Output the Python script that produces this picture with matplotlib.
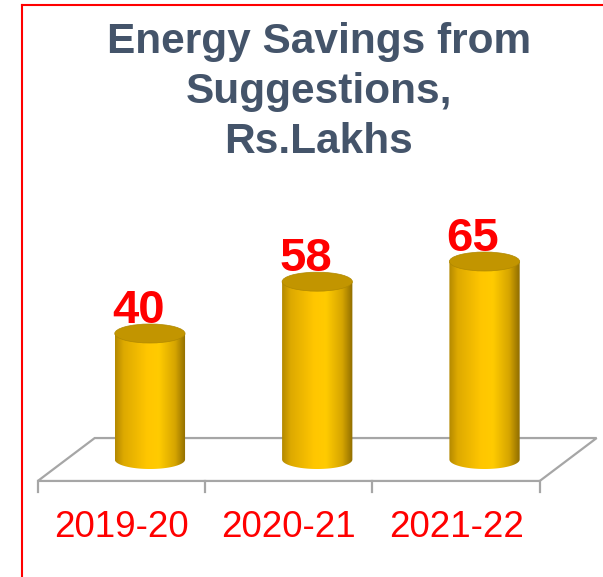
import numpy as np
import matplotlib
matplotlib.use("Agg")
import matplotlib.pyplot as plt
from matplotlib.patches import Ellipse, PathPatch, Polygon
from matplotlib.path import Path
from matplotlib.colors import LinearSegmentedColormap
from matplotlib.lines import Line2D

plt.rcParams['font.family'] = ['Liberation Sans', 'DejaVu Sans']

# data
years = ['2019-20', '2020-21', '2021-22']
savings = [40, 58, 65]
title_lines = ['Energy Savings from', 'Suggestions,', 'Rs.Lakhs']

fig = plt.figure(figsize=(6.03, 5.77), dpi=100)
ax = fig.add_axes([0, 0, 1, 1])
ax.axis('off')

# 3d floor: front edge, back edge shifted right/up
depth_dx = 0.34
front_y = -11.2
back_y = 3.7
n = len(years)
floor = Polygon([(-0.5, front_y), (n - 0.5, front_y),
                 (n - 0.5 + depth_dx, back_y), (-0.5 + depth_dx, back_y)],
                closed=True, facecolor='white', edgecolor='#A6A6A6', lw=1.6, zorder=1)
ax.add_patch(floor)
for i in range(n + 1):
    ax.plot([i - 0.5, i - 0.5], [front_y, front_y - 3.9], color='#A6A6A6', lw=1.6, zorder=1)

# cylinders sit at mid depth
cyl_w = 0.42
ell_h = 6.6
base = (front_y + back_y) / 2
shade = LinearSegmentedColormap.from_list('gold', [
    (0.0, '#B38800'), (0.12, '#DDA900'), (0.45, '#FFC600'),
    (0.62, '#FFCB00'), (0.85, '#D6A500'), (1.0, '#8E6C00')])
grad = np.linspace(0, 1, 256).reshape(1, -1)

for i, v in enumerate(savings):
    cx = i + depth_dx / 2
    x0, x1 = cx - cyl_w / 2, cx + cyl_w / 2
    t = np.linspace(np.pi, 2 * np.pi, 60)
    bx = cx + cyl_w / 2 * np.cos(t)
    by = base + ell_h / 2 * np.sin(t)
    verts = [(x0, v)] + list(zip(bx, by)) + [(x1, v), (x0, v)]
    body = PathPatch(Path(verts), facecolor='none', edgecolor='none')
    ax.add_patch(body)
    im = ax.imshow(grad, cmap=shade, extent=[x0, x1, base - ell_h / 2, v],
                   aspect='auto', zorder=2, interpolation='bilinear')
    im.set_clip_path(body)
    top = Ellipse((cx, v), cyl_w, ell_h, facecolor='#C29500',
                  edgecolor='#B08800', lw=0.5, zorder=3)
    ax.add_patch(top)
    ax.text(i + 0.1, v + 3.6, str(v), ha='center', va='baseline',
            fontsize=34, fontweight='bold', color='#FF0000', zorder=4)

for i, yr in enumerate(years):
    ax.text(i, -30.5, yr, ha='center', va='baseline', fontsize=26.5, color='#FF0000')

ax.set_xlim(-0.726, 2.878)
ax.set_ylim(-44.55, 155.8)

# title, one line at a time
for k, line in enumerate(title_lines):
    fig.text(0.529, 1 - (53 + 50 * k) / 577, line, ha='center', va='baseline',
             fontsize=30.5, fontweight='bold', color='#44546A')

# red frame on top and left
fig.add_artist(Line2D([22 / 603, 1], [1 - 5 / 577, 1 - 5 / 577], color='#FF0000', lw=1.5))
fig.add_artist(Line2D([22 / 603, 22 / 603], [0, 1 - 5 / 577], color='#FF0000', lw=1.5))

fig.savefig('out.png', dpi=100)
